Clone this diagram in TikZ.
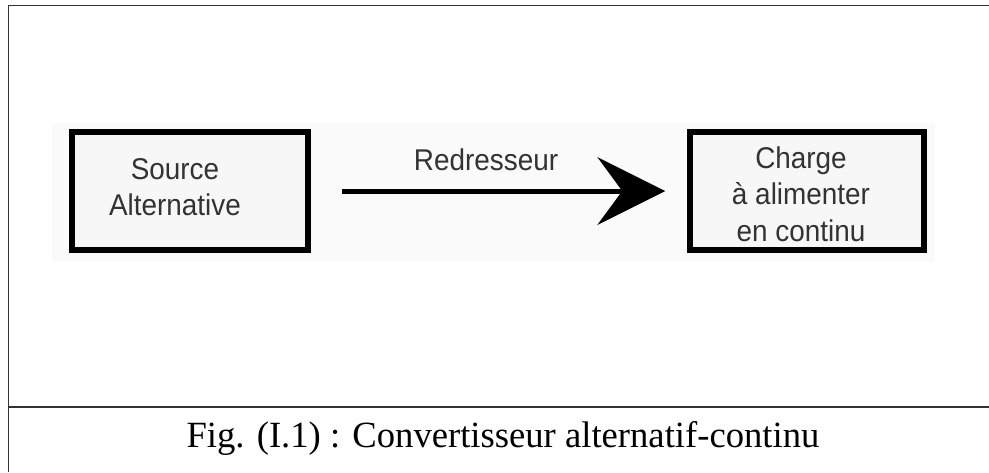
\documentclass[tikz,border=0pt]{standalone}
\usepackage{fontspec}
\setmainfont{Liberation Serif}
\newfontfamily\arialfont{Liberation Sans}
\usetikzlibrary{arrows.meta}

\begin{document}
\begin{tikzpicture}[x=1pt,y=-1pt,
  blok/.style={draw=black,line width=5.5pt,fill=black!3,inner sep=0pt},
  bloktext/.style={font=\arialfont\fontsize{30}{36.5}\selectfont,text=black!80,align=center,inner sep=0pt,xscale=0.93},
  frame/.style={draw=black!80,line width=1.5pt}]
\def\l{68pt}
\def\w{68pt}
\useasboundingbox (0,0) rectangle (989,472);
%\draw[red] (0,0) rectangle (989,472);
\fill[black!2] (52,123) rectangle (935,262);
\draw[frame] (989,5.5) -- (8.5,5.5) -- (8.5,472);
\draw[frame] (8.5,407) -- (989,407);
\node [blok, minimum width=236pt, minimum height=118pt, name=src]      at (190,191){};
\node [blok, minimum width=234pt, minimum height=118pt, name=chg]      at (807,191){};
\node [bloktext, name=srctext]      at (175,187){Source\\Alternative};
\node [bloktext, name=chgtext]      at (801,194){Charge\\à alimenter\\en continu};
\node [bloktext, anchor=base, name=redr]      at (486,170){Redresseur};
\draw [-{Stealth[length=\l, width=\w, inset=25pt, line width=0pt]}, line width=5pt, shorten <=31pt, shorten >=22pt](src) -- (chg);
%\node[font=\small] at (503,300) {...};
\node [font=\fontsize{37}{44}\selectfont, xscale=0.99, anchor=base, inner sep=0pt, name=caption]      at (503,447){Fig. (I.1) : Convertisseur alternatif-continu};
\end{tikzpicture}
\end{document}
